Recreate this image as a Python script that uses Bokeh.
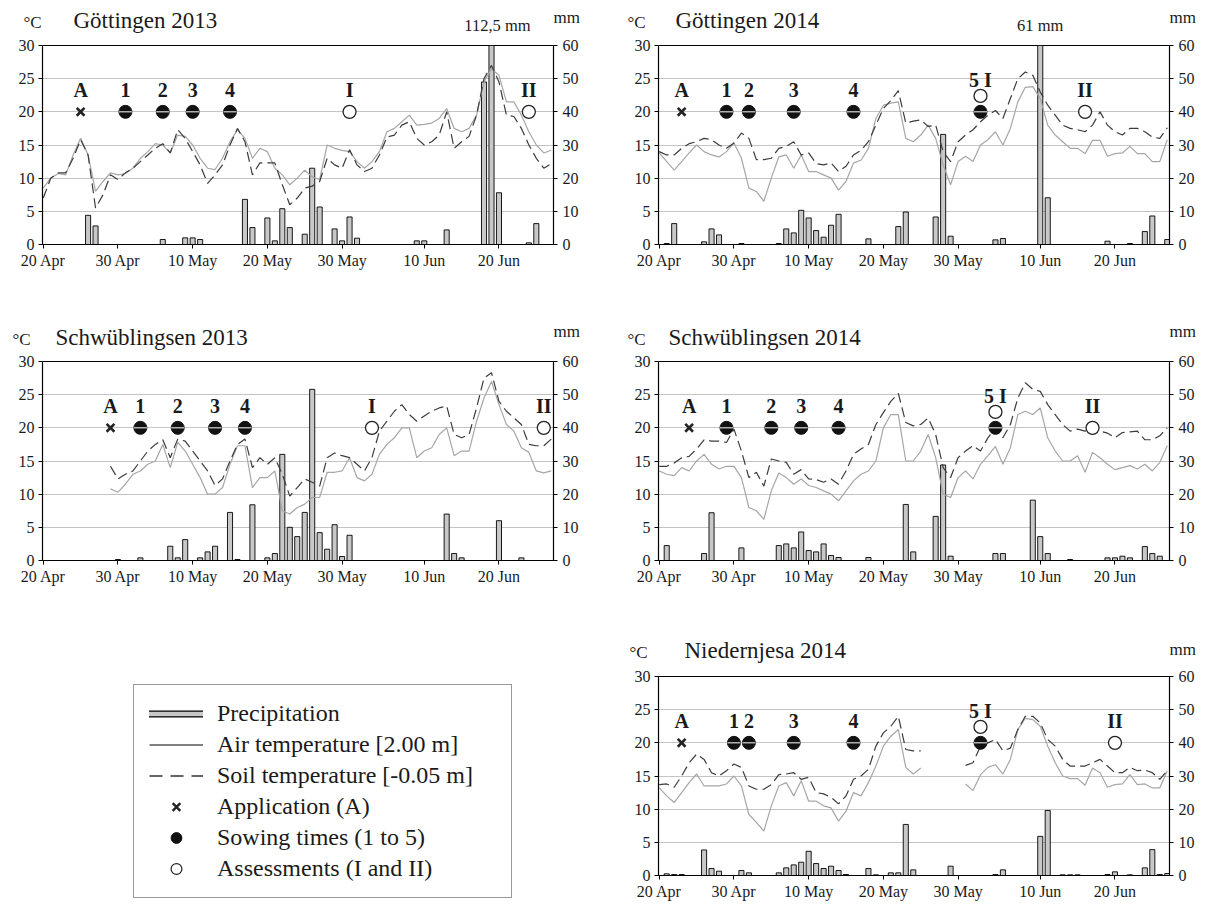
import numpy as np
from bokeh.plotting import figure
from bokeh.models import Range1d, LinearAxis, FixedTicker, Legend, LegendItem
from bokeh.layouts import column, row
from bokeh.embed import file_html
from bokeh.resources import INLINE
from bokeh.core.properties import value

N = None
# x axis: days after 20 April
TICK_DAYS = [0, 10, 20, 30, 40, 51, 61]
TICK_LABELS = ["20 Apr", "30 Apr", "10 May", "20 May", "30 May", "10 Jun", "20 Jun"]
TEMP_TICKS = [0, 5, 10, 15, 20, 25, 30]
RAIN_TICKS = [0, 10, 20, 30, 40, 50, 60]

# ---------------- Göttingen 2013 ----------------
G13_air = [8.5, 10.0, 10.7, 10.5, 13.5, 16.0, 13.5, 8.0, 9.5, 10.8,
           10.5, 10.7, 11.5, 13.0, 14.0, 15.2, 15.0, 13.8, 16.5, 16.3,
           15.0, 13.0, 11.5, 11.3, 13.0, 15.5, 17.3, 16.0, 13.0, 14.5,
           14.0, 11.5, 10.5, 9.0, 10.0, 11.2, 10.2, 9.8, 15.0, 14.5,
           14.2, 14.0, 12.5, 11.5, 12.5, 14.0, 17.0, 17.5, 18.5, 19.5,
           18.0, 18.1, 18.3, 19.0, 20.5, 17.5, 17.0, 17.5, 19.5, 24.5,
           26.5, 25.5, 21.5, 21.5, 19.5, 17.0, 15.0, 13.8, 14.2]
G13_soil = [7.0, 10.0, 10.8, 10.8, 13.0, 15.8, 13.5, 5.5, 7.5, 10.5,
            9.8, 10.8, 11.5, 12.5, 13.5, 14.5, 15.2, 13.8, 17.3, 16.0,
            14.0, 12.0, 9.2, 10.5, 12.0, 15.0, 17.5, 15.5, 10.5, 12.3,
            12.3, 12.3, 9.0, 6.0, 7.0, 8.5, 8.8, 9.5, 13.0, 12.0,
            11.5, 14.3, 12.0, 11.0, 11.5, 13.5, 16.2, 16.5, 18.0, 18.5,
            16.0, 15.0, 15.5, 16.5, 20.0, 14.5, 15.5, 16.3, 19.5, 25.0,
            27.0, 24.5, 19.5, 19.3, 17.5, 15.0, 13.0, 11.5, 12.2]
G13_rain_day = [6, 7, 16, 19, 20, 21, 27, 28, 30, 31, 32, 33, 35, 36, 37, 39, 40, 41, 42,
                50, 51, 54, 59, 60, 61, 65, 66]
G13_rain_mm = [8.8, 5.6, 1.5, 2.0, 2.0, 1.5, 13.6, 5.1, 8.0, 1.1, 10.8, 5.1, 3.1, 23.0, 11.3,
               4.7, 1.1, 8.3, 1.9, 1.1, 1.1, 4.4, 49.0, 112.5, 15.6, 0.5, 6.3]
G13_appl = 5
G13_sow = [11, 16, 20, 25]
G13_assess = [41, 65]

# ---------------- Göttingen 2014 ----------------
G14_air = [13.8, 12.5, 11.2, 12.5, 13.8, 15.0, 14.0, 13.5, 13.2, 14.0,
           15.3, 13.0, 8.5, 8.0, 6.5, 10.0, 13.2, 13.5, 11.5, 13.5,
           11.0, 11.0, 10.5, 10.0, 8.2, 9.5, 12.3, 12.7, 14.5, 19.0,
           21.0, 21.3, 21.5, 16.0, 15.5, 16.5, 18.0, 16.0, 12.0, 9.0,
           12.5, 13.3, 12.5, 15.0, 15.8, 17.0, 15.0, 17.5, 21.5, 23.7,
           23.8, 22.0, 18.0, 16.5, 15.5, 14.5, 14.5, 13.7, 15.7, 15.7,
           13.3, 13.7, 13.8, 14.8, 13.7, 13.7, 12.5, 12.5, 15.8]
G14_soil = [14.0, 13.5, 13.5, 14.5, 15.2, 15.5, 16.0, 15.8, 15.0, 14.5,
            15.3, 16.8, 16.0, 12.8, 12.8, 13.0, 14.5, 14.8, 15.5, 13.5,
            13.8, 12.2, 12.0, 12.3, 11.0, 11.8, 13.5, 14.2, 15.5, 18.0,
            20.5, 21.7, 23.2, 18.3, 18.6, 18.8, 17.8, 18.0, 14.0, 12.5,
            15.5, 16.5, 17.3, 18.5, 19.5, 20.2, 19.0, 22.0, 25.0, 26.0,
            25.5, 23.0, 21.0, 19.5, 18.0, 17.5, 17.3, 17.0, 18.0, 20.0,
            18.0, 17.0, 16.5, 17.5, 17.5, 17.0, 16.2, 16.0, 17.6]
G14_rain_day = [1, 2, 6, 7, 8, 11, 16, 17, 18, 19, 20, 21, 22, 23, 24, 28, 32, 33, 37, 38, 39,
                45, 46, 51, 52, 60, 63, 65, 66, 68]
G14_rain_mm = [0.3, 6.3, 0.8, 4.7, 2.9, 0.3, 0.3, 4.7, 3.5, 10.3, 8.0, 4.2, 2.2, 5.8, 9.1, 1.7,
               5.4, 9.8, 8.3, 33.2, 2.5, 1.4, 1.8, 61.0, 14.1, 1.0, 0.3, 3.9, 8.6, 1.5]
G14_appl = 3
G14_sow = [9, 12, 18, 26, 43]
G14_assess = [43, 57]

# ---------------- Schwüblingsen 2013 ----------------
S13_air = [N, N, N, N, N, N, N, N, N, 10.8,
           10.3, 11.5, 13.0, 13.5, 14.5, 15.0, 17.5, 14.0, 17.8, 16.5,
           14.5, 12.5, 10.0, 10.0, 11.0, 14.5, 17.3, 17.3, 11.0, 12.5,
           12.5, 13.5, 7.5, 7.0, 8.0, 8.5, 9.5, 9.5, 13.3, 13.3,
           13.5, 15.5, 12.5, 12.0, 13.0, 16.0, 17.5, 18.5, 20.0, 20.0,
           15.5, 16.5, 17.0, 19.0, 20.0, 15.8, 16.5, 16.5, 21.0, 24.5,
           27.0, 23.5, 20.5, 19.5, 17.0, 16.3, 13.5, 13.2, 13.5]
S13_soil = [N, N, N, N, N, N, N, N, N, 14.2,
            12.3, 13.0, 13.5, 15.0, 16.5, 17.5, 18.2, 15.5, 18.3, 18.0,
            16.5, 15.0, 13.5, 11.3, 12.3, 15.0, 17.5, 18.3, 14.0, 15.5,
            14.5, 15.5, 13.0, 9.7, 11.0, 12.3, 11.8, 11.2, 15.5, 16.2,
            15.8, 15.5, 14.5, 13.5, 15.5, 19.5, 21.0, 22.5, 23.5, 22.0,
            21.0, 21.8, 22.5, 23.0, 23.3, 19.0, 18.5, 19.0, 23.0, 27.5,
            28.3, 24.0, 22.5, 21.5, 20.5, 17.5, 17.3, 17.3, 18.3]
S13_rain_day = [10, 13, 17, 18, 19, 21, 22, 23, 25, 26, 28, 30, 31, 32, 33, 34, 35, 36, 37, 38,
                39, 40, 41, 54, 55, 56, 61, 64]
S13_rain_mm = [0.3, 0.8, 4.3, 0.8, 6.3, 0.8, 2.6, 4.3, 14.5, 0.3, 16.8, 0.8, 2.1, 32.0, 10.0,
               7.2, 14.5, 51.6, 8.4, 3.4, 10.8, 1.2, 7.6, 14.0, 2.1, 0.8, 12.0, 0.8]
S13_appl = 9
S13_sow = [13, 18, 23, 27]
S13_assess = [44, 67]

# ---------------- Schwüblingsen 2014 ----------------
S14_air = [13.5, 13.0, 12.8, 14.0, 13.5, 15.0, 16.0, 14.5, 13.8, 14.2,
           14.2, 12.5, 8.0, 7.5, 6.2, 10.5, 13.2, 12.5, 11.5, 12.3,
           11.3, 11.0, 10.5, 10.0, 9.0, 10.5, 12.0, 13.0, 13.5, 15.0,
           20.0, 22.0, 22.0, 15.0, 15.0, 16.5, 19.0, 15.5, 10.0, 9.5,
           12.5, 13.5, 12.3, 14.5, 15.8, 17.2, 14.5, 17.0, 22.0, 22.5,
           22.0, 23.0, 18.5, 16.5, 15.0, 15.0, 15.8, 13.3, 16.3, 15.5,
           14.5, 13.7, 14.0, 14.3, 13.8, 14.5, 13.5, 14.8, 17.3]
S14_soil = [14.2, 14.2, 14.7, 15.5, 15.7, 16.8, 18.2, 18.0, 18.0, 17.8,
            19.8, 16.5, 12.5, 13.3, 11.2, 15.3, 15.0, 14.8, 13.0, 13.7,
            12.3, 12.2, 11.8, 12.3, 11.5, 13.5, 16.0, 16.8, 17.5, 20.5,
            22.3, 24.0, 25.2, 20.8, 20.3, 20.5, 21.5, 19.0, 14.0, 12.5,
            15.5, 16.5, 17.3, 16.5, 18.5, 20.0, 18.5, 20.5, 24.5, 26.8,
            25.8, 25.5, 23.5, 22.0, 20.5, 19.5, 19.8, 19.5, 20.3, 19.5,
            19.2, 18.5, 19.3, 19.4, 19.5, 18.2, 18.2, 18.8, 20.0]
S14_rain_day = [1, 6, 7, 11, 16, 17, 18, 19, 20, 21, 22, 23, 24, 28, 33, 34, 37, 38, 39, 45, 46,
                50, 51, 52, 55, 60, 61, 62, 63, 65, 66, 67]
S14_rain_mm = [4.5, 2.1, 14.4, 3.8, 4.5, 5.0, 3.8, 8.6, 3.0, 2.6, 5.0, 1.5, 0.9, 0.9, 16.9, 2.6,
               13.3, 28.8, 1.3, 2.1, 2.1, 18.2, 7.2, 2.1, 0.3, 0.8, 0.8, 1.3, 0.8, 4.2, 2.1, 1.3]
S14_appl = 4
S14_sow = [9, 15, 19, 24, 45]
S14_assess = [45, 58]

# ---------------- Niedernjesa 2014 ----------------
N14_air = [13.2, 12.0, 11.0, 12.5, 14.0, 15.3, 13.5, 13.5, 13.5, 13.8,
           15.0, 13.5, 9.2, 8.0, 6.7, 10.5, 13.5, 14.0, 12.0, 14.3,
           11.2, 11.2, 10.5, 10.2, 8.2, 9.7, 12.5, 12.0, 14.0, 16.5,
           19.5, 21.0, 22.0, 16.3, 15.3, 16.2, N, N, N, N,
           N, 13.8, 12.8, 15.2, 16.3, 16.7, 15.3, 17.5, 22.0, 23.7,
           23.5, 22.5, 19.5, 17.0, 15.0, 14.6, 14.6, 13.6, 16.2, 15.5,
           13.3, 13.7, 13.8, 15.2, 13.7, 13.8, 13.2, 13.2, 15.8]
N14_soil = [13.7, 13.8, 13.3, 15.0, 17.0, 18.3, 17.5, 15.5, 15.0, 15.8,
            16.8, 16.3, 13.5, 13.0, 13.0, 13.7, 15.2, 15.3, 15.5, 14.5,
            14.8, 12.5, 12.3, 11.8, 10.8, 12.0, 14.5, 15.0, 16.0, 19.5,
            21.5, 22.5, 24.0, 19.0, 18.8, 18.8, N, N, N, N,
            N, 16.6, 17.0, 19.5, 20.0, 20.5, 18.8, 19.2, 22.0, 24.0,
            24.0, 23.0, 20.5, 19.5, 17.5, 16.5, 16.5, 16.5, 17.0, 17.5,
            16.5, 15.5, 15.5, 16.3, 15.8, 15.9, 15.5, 14.5, 15.8]
N14_rain_day = [1, 2, 3, 6, 7, 8, 11, 12, 16, 17, 18, 19, 20, 21, 22, 23, 24, 25, 28, 29, 31, 32,
                33, 34, 39, 45, 46, 51, 52, 54, 55, 56, 60, 61, 63, 65, 66, 67, 68]
N14_rain_mm = [0.5, 0.3, 0.3, 7.7, 2.1, 1.3, 1.5, 0.8, 0.8, 2.3, 3.2, 4.0, 7.3, 3.6, 2.1, 2.8, 1.5,
               0.3, 2.1, 0.2, 0.8, 0.8, 15.4, 1.7, 2.8, 0.3, 1.7, 11.8, 19.6, 0.2, 0.2, 0.2, 0.3,
               1.1, 0.2, 2.3, 7.8, 0.3, 0.6]
N14_appl = 3
N14_sow = [10, 12, 18, 26, 43]
N14_assess = [43, 61]

FONT = "Liberation Serif"
AIR_COLOR = "#a6a6a6"
SOIL_COLOR = "#3c3c3c"
BAR_FILL = "#c8c8c8"
TXT = "#1a1a1a"
X0, X1 = -0.1, 68.3
FW, FH = 511, 199
TOP_PAD = 9           # room above the frame inside the panel for the "30"/"60" labels
BASE_FIX = 0.33       # alphabetic baseline correction, in em


def to_arr(vals):
    return np.array([np.nan if v is None else v for v in vals], dtype=float)


def bare(width, height, xr, yr):
    f = figure(width=width, height=height, x_range=xr, y_range=yr,
               x_axis_location=None, y_axis_location=None, min_border=0,
               output_backend="svg", toolbar_location=None,
               background_fill_color="white", border_fill_color="white")
    f.outline_line_color = None
    f.grid.visible = False
    try:
        f.frame_align = False
    except AttributeError:
        pass
    return f


def make_header(title, border, head, big_rain):
    left, right, top, bottom = border
    c_dx, t_dx, c_up, mm_up = head
    k = FW / (X1 - X0)            # px per day, same scale as the panel below
    H = top - TOP_PAD
    h = bare(left + FW + right, H,
             Range1d(X0 - left / k, X1 + right / k), Range1d(0, H))

    def ypos(up, size):
        return up - TOP_PAD + BASE_FIX * size

    common = dict(text_baseline="alphabetic", text_font=value(FONT), text_color=TXT)
    h.text(x=[X0], y=[ypos(c_up, 17)], text=["°C"], x_offset=c_dx, text_align="left",
           text_font_size="17px", **common)
    h.text(x=[X0], y=[ypos(c_up, 23)], text=[title], x_offset=t_dx, text_align="left",
           text_font_size="23px", **common)
    h.text(x=[X1], y=[ypos(mm_up, 17)], text=["mm"], x_offset=0, text_align="left",
           text_font_size="17px", **common)
    if big_rain is not None:
        d, txt, dx, up = big_rain
        h.text(x=[d], y=[ypos(up, 16.5)], text=[txt], x_offset=dx, text_align="center",
               text_font_size="16.5px", **common)
    return h


def make_panel(title, air, soil, rain_day, rain_mm, appl, sow, assess,
               border, head, big_rain=None):
    left, right, top, bottom = border
    p = figure(frame_width=FW, frame_height=FH,
               x_range=Range1d(X0, X1), y_range=Range1d(0, 30),
               output_backend="svg", toolbar_location=None,
               min_border_left=left, min_border_right=right,
               min_border_top=TOP_PAD, min_border_bottom=bottom,
               background_fill_color="white", border_fill_color="white")
    p.extra_y_ranges = {"mm": Range1d(0, 60)}
    p.outline_line_color = "black"
    p.outline_line_width = 1
    p.xgrid.visible = False
    p.ygrid.ticker = FixedTicker(ticks=[5, 10, 15, 20, 25])
    p.ygrid.grid_line_color = "#c4c4c4"
    p.ygrid.grid_line_width = 1

    p.xaxis.ticker = FixedTicker(ticks=TICK_DAYS)
    p.xaxis.major_label_overrides = {d: l for d, l in zip(TICK_DAYS, TICK_LABELS)}
    p.yaxis.ticker = FixedTicker(ticks=TEMP_TICKS)
    yr = LinearAxis(y_range_name="mm", ticker=FixedTicker(ticks=RAIN_TICKS))
    p.add_layout(yr, "right")
    for ax in [p.xaxis[0], p.yaxis[0], yr]:
        ax.axis_line_color = "black"
        ax.axis_line_width = 1.2
        ax.major_tick_line_color = "black"
        ax.major_tick_out = 4
        ax.major_tick_in = 0
        ax.minor_tick_out = 0
        ax.minor_tick_in = 0
        ax.major_label_text_font = FONT
        ax.major_label_text_font_size = "16px"
        ax.major_label_text_color = TXT
    p.xaxis.major_label_standoff = 3
    p.yaxis.major_label_standoff = 4
    yr.major_label_standoff = 5

    p.vbar(x=rain_day, top=rain_mm, bottom=0, width=0.68, y_range_name="mm",
           fill_color=BAR_FILL, line_color="black", line_width=0.9)
    p.line(list(range(len(air))), to_arr(air), line_color=AIR_COLOR, line_width=1.2)
    p.line(list(range(len(soil))), to_arr(soil), line_color=SOIL_COLOR,
           line_width=1.2, line_dash="10 5")

    p.scatter([appl], [20], marker="x", size=11, line_width=2.6, line_color="#222")
    p.scatter(sow, [20] * len(sow), marker="circle", size=13,
              fill_color="#111", line_color="#111")
    p.scatter(sow, [20] * len(sow), marker="dash", size=13,
              line_color="white", line_width=1)
    merged = len(sow) == 5
    ass_y = [22.4 if merged else 20, 20]
    p.scatter(assess, ass_y, marker="circle", size=13, fill_color="white",
              line_color="#222", line_width=1.3)

    lab_x = [appl] + sow[:4] + [assess[1]]
    lab_t = ["A", "1", "2", "3", "4", "II"]
    if not merged:
        lab_x.insert(-1, assess[0])
        lab_t.insert(-1, "I")
    p.text(x=lab_x, y=[20] * len(lab_x), text=lab_t, text_align="center",
           text_baseline="alphabetic", y_offset=-22, text_font=value(FONT),
           text_font_style="bold", text_font_size="20px", text_color=TXT)
    if merged:
        p.text(x=[assess[0]], y=[22.4], text=["5 I"], text_align="center",
               text_baseline="alphabetic", y_offset=-16, text_font=value(FONT),
               text_font_style="bold", text_font_size="20px", text_color=TXT)

    return column(make_header(title, border, head, big_rain), p)


p1 = make_panel("Göttingen 2013", G13_air, G13_soil, G13_rain_day, G13_rain_mm,
                G13_appl, G13_sow, G13_assess, (42, 47, 45, 56), (-19, 31, 17, 22),
                big_rain=(60, "112,5 mm", 6, 15))
p2 = make_panel("Göttingen 2014", G14_air, G14_soil, G14_rain_day, G14_rain_mm,
                G14_appl, G14_sow, G14_assess, (58, 41, 45, 56), (-31, 17, 17, 22),
                big_rain=(51, "61 mm", 0, 15))
p3 = make_panel("Schwüblingsen 2013", S13_air, S13_soil, S13_rain_day, S13_rain_mm,
                S13_appl, S13_sow, S13_assess, (42, 47, 61, 70), (-30, 13, 16, 24))
p4 = make_panel("Schwüblingsen 2014", S14_air, S14_soil, S14_rain_day, S14_rain_mm,
                S14_appl, S14_sow, S14_assess, (58, 41, 61, 70), (-31, 10, 16, 24))
p5 = make_panel("Niedernjesa 2014", N14_air, N14_soil, N14_rain_day, N14_rain_mm,
                N14_appl, N14_sow, N14_assess, (58, 41, 46, 20), (-29, 26, 18, 21))

# legend panel
pl = bare(600, 272, Range1d(0, 1), Range1d(0, 1))
hx, hy = [-5], [-5]   # one hidden point each so the legend can draw the glyph styles
rb1 = pl.line(hx, hy, line_color="black", line_width=7, line_cap="square")
rb2 = pl.line(hx, hy, line_color=BAR_FILL, line_width=4.6, line_cap="square")
ra = pl.line(hx, hy, line_color="#555555", line_width=1.3)
rs = pl.line(hx, hy, line_color="#333333", line_width=1.3, line_dash="13 8")
rx = pl.scatter(hx, hy, marker="x", size=10, line_width=2.4, line_color="#222")
rf = pl.scatter(hx, hy, marker="circle", size=12, fill_color="#111", line_color="#111")
ro = pl.scatter(hx, hy, marker="circle", size=10, fill_color="white",
                line_color="#222", line_width=1.2)
legend = Legend(items=[
    LegendItem(label="Precipitation", renderers=[rb1, rb2]),
    LegendItem(label="Air temperature [2.00 m]", renderers=[ra]),
    LegendItem(label="Soil temperature [-0.05 m]", renderers=[rs]),
    LegendItem(label="Application (A)", renderers=[rx]),
    LegendItem(label="Sowing times (1 to 5)", renderers=[rf]),
    LegendItem(label="Assessments (I and II)", renderers=[ro]),
], location=(133, 4))
legend.label_text_font = FONT
legend.label_text_font_size = "24px"
legend.label_text_color = TXT
legend.glyph_width = 54
legend.glyph_height = 27
legend.label_height = 27
legend.label_width = 279
legend.label_standoff = 14
legend.spacing = 4
legend.padding = 15
legend.margin = 0
legend.border_line_color = "#333333"
legend.border_line_width = 1.2
legend.background_fill_color = "white"
legend.background_fill_alpha = 1
pl.add_layout(legend)

layout = column(row(p1, p2), row(p3, p4), row(pl, p5))
open("out.html", "w").write(file_html(layout, INLINE))
